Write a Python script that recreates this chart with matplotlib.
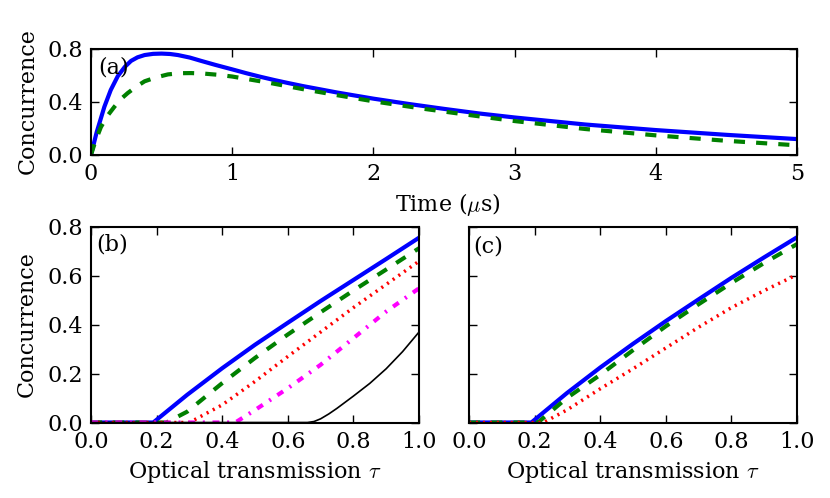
import matplotlib
matplotlib.use("Agg")
import matplotlib.pyplot as plt

# ---- panel (a): concurrence vs time ----
time_a_blue = [0, 0.04, 0.095, 0.14, 0.19, 0.24, 0.284, 0.33, 0.38, 0.44, 0.5, 0.56,
               0.616, 0.7, 0.78, 0.88, 1.0, 1.1, 1.2, 1.3, 1.4, 1.5, 1.75, 2.0,
               2.25, 2.5, 2.75, 3.0, 3.5, 4.0, 4.5, 5.0]
conc_a_blue = [0, 0.17, 0.364, 0.49, 0.595, 0.665, 0.71, 0.737, 0.754, 0.763, 0.765, 0.762,
               0.754, 0.735, 0.71, 0.68, 0.646, 0.617, 0.59, 0.565, 0.542, 0.52, 0.47, 0.425,
               0.385, 0.348, 0.313, 0.283, 0.23, 0.188, 0.152, 0.12]

time_a_green = [0, 0.03, 0.07, 0.12, 0.166, 0.21, 0.26, 0.32, 0.38, 0.46, 0.545, 0.63,
                0.71, 0.8, 0.9, 1.0, 1.25, 1.5, 1.75, 2.0, 2.36, 2.69, 3.0, 3.5,
                4.0, 4.5, 5.0]
conc_a_green = [0, 0.1, 0.21, 0.3, 0.364, 0.42, 0.467, 0.515, 0.556, 0.585, 0.608, 0.617,
                0.618, 0.614, 0.605, 0.592, 0.547, 0.497, 0.45, 0.405, 0.348, 0.30, 0.256, 0.196,
                0.148, 0.107, 0.073]

# ---- panel (b): concurrence vs optical transmission ----
tau_b_blue = [0, 0.19, 0.293, 0.4, 0.5, 0.6, 0.7, 0.8, 0.9, 1.0]
conc_b_blue = [0, 0, 0.113, 0.222, 0.318, 0.408, 0.497, 0.583, 0.669, 0.756]

tau_b_green = [0, 0.23, 0.293, 0.4, 0.5, 0.6, 0.7, 0.8, 0.9, 1.0]
conc_b_green = [0, 0, 0.044, 0.161, 0.264, 0.36, 0.451, 0.540, 0.626, 0.713]

tau_b_red = [0, 0.3, 0.4, 0.5, 0.6, 0.7, 0.8, 0.9, 1.0]
conc_b_red = [0, 0, 0.072, 0.168, 0.27, 0.37, 0.47, 0.565, 0.66]

tau_b_magenta = [0, 0.44, 0.5, 0.6, 0.7, 0.8, 0.9, 1.0]
conc_b_magenta = [0, 0, 0.051, 0.14, 0.236, 0.345, 0.454, 0.549]

tau_b_black = [0, 0.66, 0.68, 0.7, 0.725, 0.75, 0.8, 0.85, 0.9, 0.95, 1.0]
conc_b_black = [0, 0, 0.004, 0.015, 0.035, 0.058, 0.108, 0.16, 0.22, 0.29, 0.37]

# ---- panel (c) ----
tau_c_blue = [0, 0.19, 0.298, 0.4, 0.5, 0.6, 0.7, 0.8, 0.9, 1.0]
conc_c_blue = [0, 0, 0.12, 0.225, 0.322, 0.415, 0.504, 0.592, 0.676, 0.758]

tau_c_green = [0, 0.21, 0.298, 0.4, 0.5, 0.6, 0.7, 0.8, 0.9, 1.0]
conc_c_green = [0, 0, 0.1, 0.195, 0.296, 0.394, 0.484, 0.571, 0.653, 0.73]

tau_c_red = [0, 0.227, 0.298, 0.4, 0.5, 0.6, 0.7, 0.8, 0.9, 1.0]
conc_c_red = [0, 0, 0.051, 0.138, 0.22, 0.305, 0.39, 0.47, 0.54, 0.605]

time_ticks = [0, 1, 2, 3, 4, 5]
tau_ticks = [0.0, 0.2, 0.4, 0.6, 0.8, 1.0]

plt.rcParams['font.family'] = ['DejaVu Serif']
plt.rcParams['mathtext.fontset'] = 'cm'
plt.rcParams['font.size'] = 16
plt.rcParams['lines.scale_dashes'] = False

FS = 16
DASH = (0, (8, 8))
DOT = (0, (1.5, 3.5))
DASHDOT = (0, (5, 5.5, 1.5, 5.5))
MAGENTA = '#ff00ff'


def style_axes(ax):
    ax.tick_params(direction='in', top=True, right=True, length=6, width=1,
                   labelsize=FS, pad=6)
    for s in ax.spines.values():
        s.set_linewidth(1.5)


fig = plt.figure(figsize=(8.3, 4.98), dpi=100)

ax_a = fig.add_axes([0.1096, 0.6888, 0.8506, 0.2129])
ax_b = fig.add_axes([0.1096, 0.1516, 0.3952, 0.3926])
ax_c = fig.add_axes([0.5651, 0.1516, 0.3952, 0.3926])

ax_a.plot(time_a_blue, conc_a_blue, color='b', lw=3)
ax_a.plot(time_a_green, conc_a_green, color='g', lw=3, linestyle=DASH)
ax_a.set_xlim(0, 5)
ax_a.set_ylim(0, 0.8)
ax_a.set_xticks(time_ticks)
ax_a.set_yticks([0.0, 0.4, 0.8])
ax_a.set_yticklabels(['0.0', '0.4', '0.8'])
style_axes(ax_a)
ax_a.text(0.01, 0.825, '(a)', transform=ax_a.transAxes, fontsize=FS,
          ha='left', va='center')

ax_b.plot(tau_b_blue, conc_b_blue, color='b', lw=3)
ax_b.plot(tau_b_green, conc_b_green, color='g', lw=3, linestyle=DASH)
ax_b.plot(tau_b_red, conc_b_red, color='r', lw=2.5, linestyle=DOT)
ax_b.plot(tau_b_magenta, conc_b_magenta, color=MAGENTA, lw=3, linestyle=DASHDOT)
ax_b.plot(tau_b_black, conc_b_black, color='k', lw=1.2)
ax_b.text(0.015, 0.91, '(b)', transform=ax_b.transAxes, fontsize=FS,
          ha='left', va='center')

ax_c.plot(tau_c_blue, conc_c_blue, color='b', lw=3)
ax_c.plot(tau_c_green, conc_c_green, color='g', lw=3, linestyle=DASH)
ax_c.plot(tau_c_red, conc_c_red, color='r', lw=2.5, linestyle=DOT)
ax_c.text(0.012, 0.90, '(c)', transform=ax_c.transAxes, fontsize=FS,
          ha='left', va='center')

for ax in (ax_b, ax_c):
    ax.set_xlim(0, 1)
    ax.set_ylim(0, 0.8)
    ax.set_xticks(tau_ticks)
    ax.set_xticklabels([f'{t:.1f}' for t in tau_ticks])
    ax.set_yticks([0.0, 0.2, 0.4, 0.6, 0.8])
    style_axes(ax)
ax_b.set_yticklabels(['0.0', '0.2', '0.4', '0.6', '0.8'])
ax_c.set_yticklabels([])

fig.text(28 / 830, 1 - 101.5 / 498, 'Concurrence', rotation=90, fontsize=FS,
         ha='center', va='center')
fig.text(27 / 830, 1 - 324 / 498, 'Concurrence', rotation=90, fontsize=FS,
         ha='center', va='center')
fig.text(448 / 830, 1 - 204 / 498, r'Time ($\mu$s)', fontsize=FS,
         ha='center', va='center')
fig.text(255 / 830, 1 - 472 / 498, r'Optical transmission $\tau$', fontsize=FS,
         ha='center', va='center')
fig.text(633 / 830, 1 - 472 / 498, r'Optical transmission $\tau$', fontsize=FS,
         ha='center', va='center')

fig.savefig('out.png', dpi=100)
